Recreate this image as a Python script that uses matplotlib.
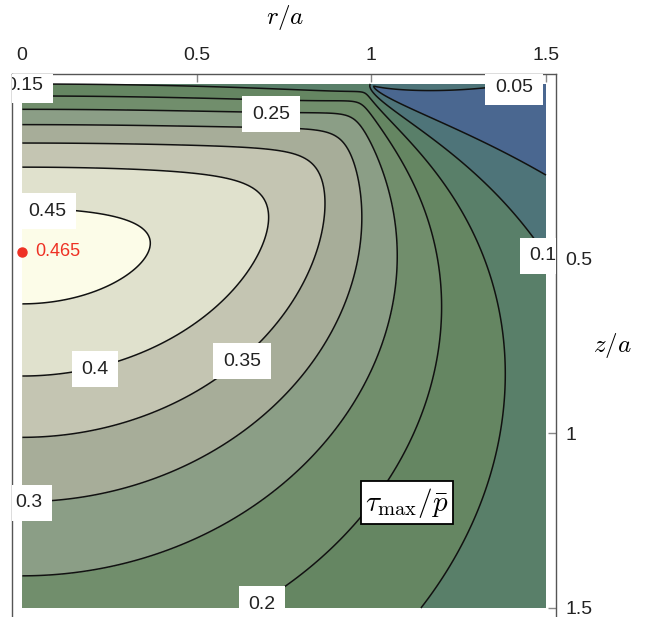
import numpy as np
import matplotlib.pyplot as plt
from matplotlib.colors import ListedColormap, BoundaryNorm

plt.rcParams['font.family'] = ['Liberation Sans', 'DejaVu Sans']
plt.rcParams['mathtext.fontset'] = 'cm'

# Hertz contact of a sphere, stresses normalised by the mean pressure p_bar
nu = 0.3
r_max = 1.5
z_max = 1.5

levels = [0.05, 0.1, 0.15, 0.2, 0.25, 0.3, 0.35, 0.4, 0.45]
label_text = ["0.05", "0.1", "0.15", "0.2", "0.25", "0.3", "0.35", "0.4", "0.45"]
peak_value = 0.465

# one fill colour per band between contour levels (lowest band first)
band_colors = ["#4a6790", "#4e7479", "#597f69", "#658662", "#718e6c",
               "#8b9e86", "#a7ad99", "#c4c5b2", "#e0e1cd", "#fcfce8"]

# where the boxed contour labels sit (r/a, z/a)
label_r = [1.408, 1.491, 0.007, 0.687, 0.713, 0.020, 0.630, 0.209, 0.072]
label_z = [0.009, 0.492, 0.003, 1.489, 0.086, 1.199, 0.793, 0.816, 0.364]

# ---- stress field (Huber / Johnson eq. 3.45, a = 1, p0 = 1) ----
r = np.linspace(0, r_max, 451)
z = np.linspace(0, z_max, 451)
r[0] = 1e-3
z[0] = 1e-5
R, Z = np.meshgrid(r, z)

b = R**2 + Z**2 - 1
s = np.sqrt(b**2 + 4 * Z**2)
u = np.where(b >= 0, 0.5 * (b + s), 2 * Z**2 / (s - b))
sq = np.sqrt(u)
zs = Z / sq

sig_r = ((1 - 2 * nu) / 3 / R**2 * (1 - zs**3) + zs**3 * u / (u**2 + Z**2)
         + zs * ((1 - nu) * u / (1 + u) + (1 + nu) * sq * np.arctan(1 / sq) - 2))
sig_z = -zs**3 * u / (u**2 + Z**2)
tau_rz = -R * Z**2 / (u**2 + Z**2) * sq / (1 + u)

tau = 1.5 * np.sqrt(((sig_r - sig_z) / 2)**2 + tau_rz**2)

# peak on the axis
i_peak = np.argmax(tau[:, 0])
z_peak = z[i_peak]

bounds = [0] + levels + [1]
cmap = ListedColormap(band_colors)
norm = BoundaryNorm(bounds, cmap.N)

W, H = 649, 617
fig = plt.figure(figsize=(W / 100, H / 100), dpi=100)
# frame: left 12px, right 556px, top 74px, bottom runs off the picture
ax = fig.add_axes([12 / W, 1 - 622 / H, 544 / W, 548 / H])
pad = 10 / 349.33
ax.set_xlim(-pad, r_max + pad)
ax.set_ylim(-pad + 548 / 349.33, -pad)

ax.contourf(R, Z, tau, levels=bounds, cmap=cmap, norm=norm)
ax.contour(R, Z, tau, levels=levels, colors='#111111', linewidths=1.1)

for txt, lr, lz in zip(label_text, label_r, label_z):
    ax.text(lr, lz, txt, fontsize=14, ha='center', va='center', color='#222222',
            bbox=dict(boxstyle='square,pad=0.5', fc='white', ec='none'),
            clip_on=True, zorder=5)

ax.plot(0, z_peak, 'o', color='#ee3124', ms=6.5, clip_on=False, zorder=6)
ax.text(0.037, z_peak, f"{peak_value}", color='#ee3124', fontsize=13,
        ha='left', va='center', zorder=6)

ax.text(1.102, 1.199, r'$\tau_{\max}/\bar{p}$', fontsize=21, ha='center',
        va='center', zorder=6,
        bbox=dict(boxstyle='square,pad=0.15', fc='white', ec='black', lw=1.3))

ax.xaxis.tick_top()
ax.yaxis.tick_right()
ax.set_xticks([0, 0.5, 1, 1.5])
ax.set_xticklabels(["0", "0.5", "1", "1.5"])
ax.set_yticks([0.5, 1, 1.5])
ax.set_yticklabels(["0.5", "1", "1.5"])
ax.tick_params(direction='in', length=6, width=1, color='#888888',
               labelsize=14, labelcolor='#222222', pad=7)
for side in ['left', 'top', 'right']:
    ax.spines[side].set_color('#555555')
    ax.spines[side].set_linewidth(1.0)
ax.spines['bottom'].set_visible(False)

fig.text(285 / W, 1 - 18 / H, r'$r/a$', fontsize=18, ha='center', va='center')
fig.text(612 / W, 1 - 345 / H, r'$z/a$', fontsize=18, ha='center', va='center')

fig.savefig("out.png", dpi=100)
